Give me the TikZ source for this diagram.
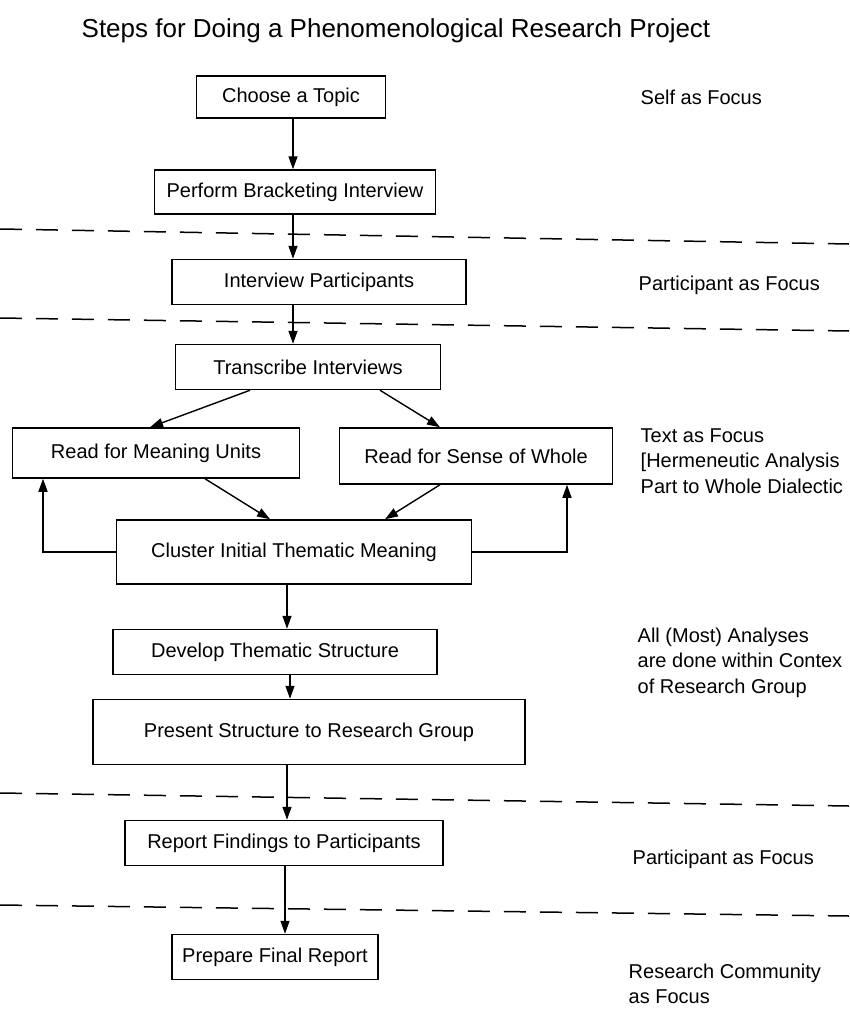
\documentclass[tikz,border=0pt]{standalone}
\usepackage{fontspec}
\setmainfont{Liberation Sans}
\usetikzlibrary{arrows.meta,positioning}

\begin{document}
\begin{tikzpicture}[
      x=1pt, y=-1pt, ->, >={Triangle[length=13pt,width=9pt]}, line width=1.4pt,
      stepbox/.style={rectangle, draw, line width=1.5pt, inner sep=0pt, font=\fontsize{20}{24}\selectfont},
      focus/.style={anchor=north west, align=left, inner sep=0pt, font=\fontsize{20}{25.5}\selectfont},
      divider/.style={-, dash pattern=on 22pt off 14pt, line width=1.5pt}]

      \useasboundingbox (0,0) rectangle (849,1014);

      % Title
      \node[font=\fontsize{26}{30}\selectfont] (title) at (396,31) {Steps for Doing a Phenomenological Research Project};

      % Nodes
      \node[stepbox, minimum width=189pt, minimum height=42pt] (topic) at (291,97) {Choose a Topic};
      \node[stepbox, minimum width=281pt, minimum height=44pt] (bracket) at (295,192) {Perform Bracketing Interview};
      \node[stepbox, minimum width=294pt, minimum height=45pt] (interview) at (319,282) {Interview Participants};
      \node[stepbox, minimum width=265pt, minimum height=45pt] (transcribe) at (308,367) {Transcribe Interviews};
      \node[stepbox, minimum width=287pt, minimum height=50pt] (units) at (156,453) {Read for Meaning Units};
      \node[stepbox, minimum width=273pt, minimum height=56pt] (whole) at (476,456) {Read for Sense of Whole};
      \node[stepbox, minimum width=355pt, minimum height=64pt] (cluster) at (294,552) {Cluster Initial Thematic Meaning};
      \node[stepbox, minimum width=324pt, minimum height=45pt] (develop) at (275,652) {Develop Thematic Structure};
      \node[stepbox, minimum width=432pt, minimum height=65pt] (present) at (309,732) {Present Structure to Research Group};
      \node[stepbox, minimum width=318pt, minimum height=45pt] (report) at (284,843) {Report Findings to Participants};
      \node[stepbox, minimum width=206pt, minimum height=45pt] (final) at (275,957) {Prepare Final Report};

      % Dividers
      \draw[divider] (0,229) -- (849,244);
      \draw[divider] (0,318) -- (849,331);
      \draw[divider] (0,793) -- (849,806);
      \draw[divider] (0,905) -- (849,916);

      % Edges
      \path (topic.south -| 293,0) edge (bracket.north -| 293,0)
            (bracket.south -| 293,0) edge (interview.north -| 293,0)
            (interview.south -| 293,0) edge (transcribe.north -| 293,0)
            (transcribe.south -| 250,0) edge (units.north -| 150,0)
            (transcribe.south -| 380,0) edge (whole.north -| 440,0)
            (units.south -| 205,0) edge (cluster.north -| 270,0)
            (whole.south -| 440,0) edge (cluster.north -| 385,0)
            (cluster.south -| 287,0) edge (develop.north -| 287,0)
            (develop.south -| 290,0) edge (present.north -| 290,0)
            (present.south -| 287,0) edge (report.north -| 287,0)
            (report.south -| 285,0) edge (final.north -| 285,0);
      \draw (cluster.west) -| (units.south -| 43,0);
      \draw (cluster.east) -| (whole.south -| 567,0);

      % Focus
      \node[focus] (self) at (640,89) {Self as Focus};
      \node[focus] (part1) at (638,275) {Participant as Focus};
      \node[focus] (text) at (640,428) {Text as Focus\\{[}Hermeneutic Analysis\\Part to Whole Dialectic};
      \node[focus] (group) at (637,627) {All (Most) Analyses\\are done within Contex\\of Research Group};
      \node[focus] (part2) at (632,849) {Participant as Focus};
      \node[focus] (community) at (628,963) {Research Community\\as Focus};

\end{tikzpicture}
\end{document}
